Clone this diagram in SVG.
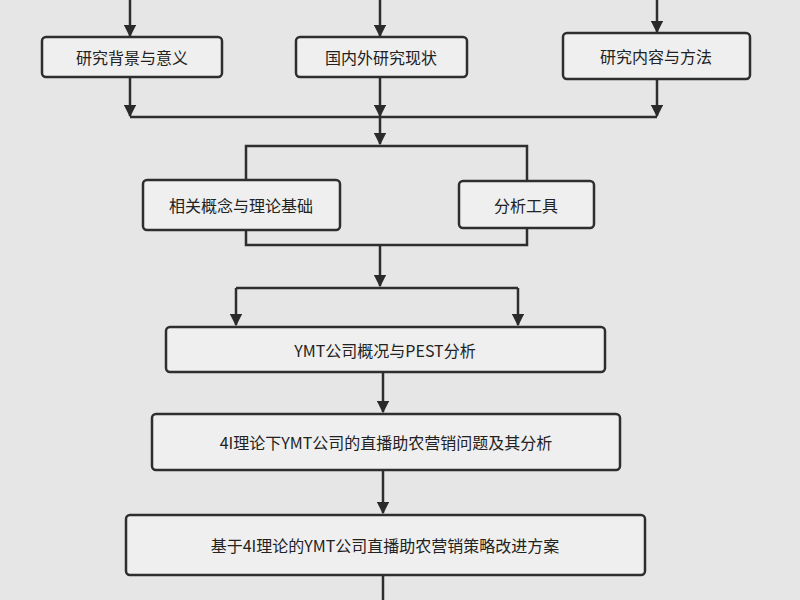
<svg xmlns="http://www.w3.org/2000/svg" width="800" height="600" viewBox="0 0 800 600">
<defs>
<marker id="ah" viewBox="0 0 10 10" refX="9" refY="5" markerWidth="5" markerHeight="5" orient="auto"><path d="M0,0L10,5L0,10z" fill="#2a2a2a"/></marker>
<style>
.b{fill:#efefef;stroke:#2e2e2e;stroke-width:2.5}
.l{fill:none;stroke:#2e2e2e;stroke-width:2.5}
.a{fill:none;stroke:#2e2e2e;stroke-width:2.5;marker-end:url(#ah)}
text{font-family:"Noto Sans CJK SC","Liberation Sans",sans-serif;font-size:16px;fill:#222;text-anchor:middle;dominant-baseline:central}
</style>
</defs>
<rect width="800" height="600" fill="#e6e6e6"/>
<g id="connectors">
<path class="a" d="M130,0V36"/>
<path class="a" d="M380,0V36"/>
<path class="a" d="M657,0V32"/>
<path class="a" d="M130,78V116"/>
<path class="a" d="M657,80V116"/>
<path class="l" d="M130,117H657"/>
<path class="a" d="M380,78V116"/>
<path class="a" d="M380,117V144"/>
<rect class="l" x="246" y="146" width="281" height="99"/>
<path class="a" d="M380,245V286"/>
<path class="l" d="M236,288H518"/>
<path class="a" d="M236,288V325"/>
<path class="a" d="M518,288V325"/>
<path class="a" d="M383,373V412"/>
<path class="a" d="M383,471V513"/>
<path class="l" d="M383,576V600"/>
</g>
<g id="n1"><rect class="b" x="42" y="37" width="180" height="40" rx="4"/><text x="132" y="57">研究背景与意义</text></g>
<g id="n2"><rect class="b" x="296" y="37" width="171" height="40" rx="4"/><text x="381" y="57">国内外研究现状</text></g>
<g id="n3"><rect class="b" x="563" y="33" width="187" height="46" rx="4"/><text x="656" y="56">研究内容与方法</text></g>
<g id="n4"><rect class="b" x="143" y="180" width="197" height="50" rx="4"/><text x="241" y="205">相关概念与理论基础</text></g>
<g id="n5"><rect class="b" x="459" y="181" width="135" height="47" rx="4"/><text x="526" y="205">分析工具</text></g>
<g id="n6"><rect class="b" x="166" y="327" width="439" height="45" rx="4"/><text x="385" y="350">YMT公司概况与PEST分析</text></g>
<g id="n7"><rect class="b" x="152" y="414" width="468" height="56" rx="4"/><text x="386" y="442">4I理论下YMT公司的直播助农营销问题及其分析</text></g>
<g id="n8"><rect class="b" x="126" y="515" width="519" height="60" rx="4"/><text x="385" y="545">基于4I理论的YMT公司直播助农营销策略改进方案</text></g>
</svg>
